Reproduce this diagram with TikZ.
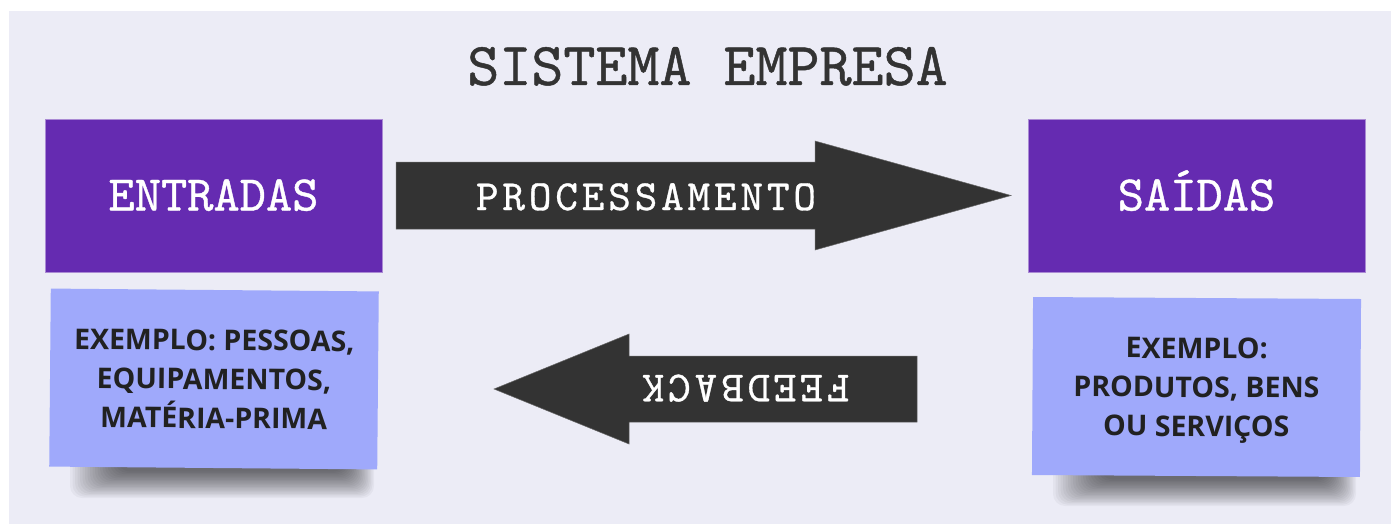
\documentclass[tikz,border=0pt]{standalone}
\usepackage{fontspec}

\newfontfamily\slabfont{lmmono10-regular}[Extension=.otf,FakeBold=0.8]
\newfontfamily\arrowfont{lmmono10-regular}[Extension=.otf,FakeBold=0.8,LetterSpace=9]
\newfontfamily\notefont{Open Sans}

\definecolor{bgcol}{HTML}{ECECF6}
\definecolor{boxpurple}{HTML}{652BB1}
\definecolor{arrowgray}{HTML}{333333}
\definecolor{notecol}{HTML}{9FA9FB}

\tikzset{
  purplebox/.style={fill=boxpurple, draw=boxpurple!55!white, line width=0.8pt,
    minimum width=337pt, minimum height=153pt, inner sep=0pt, text=white,
    font=\slabfont\fontsize{50}{50}\selectfont, text height=30pt, text depth=0pt},
  stickynote/.style={fill=notecol, minimum width=328pt, minimum height=178pt,
    inner sep=0pt, align=center, text=black!87, text depth=0pt,
    font=\notefont\bfseries\fontsize{28.5}{39}\selectfont},
  noteshadow/.style={fill=black, opacity=0.035, rounded corners=12pt},
  arrowtext/.style={text=white, inner sep=0pt, anchor=base,
    font=\arrowfont\fontsize{43}{43}\selectfont},
  bigarrow/.style={fill=arrowgray, draw=arrowgray!75!white, line width=0.5pt}
}

\begin{document}
\begin{tikzpicture}[x=1pt,y=-1pt]
\useasboundingbox (0,0) rectangle (1391,524);
% Background
\fill[bgcol] (9,11) rectangle (1391,524);
% Title
\node[anchor=base, text=arrowgray, inner sep=0pt,
  font=\slabfont\fontsize{61}{61}\selectfont] (title) at (707.5,85) {SISTEMA EMPRESA};
% Inputs and outputs
\node[purplebox] (entradas) at (213.5,195.5) {ENTRADAS};
\node[purplebox] (saidas) at (1196.5,195.5) {SAÍDAS};
% Shadows under the notes
\foreach \k in {0,...,19} {
  \fill[noteshadow] (70+2.5*\k,430) rectangle (374-1.5*\k,498-1.4*\k);
  \fill[noteshadow] (1053+2.5*\k,438) rectangle (1356-1.5*\k,506-1.4*\k);
}
% Notes
\node[stickynote, rotate=-0.5] (exentradas) at (214,379)
  {EXEMPLO: PESSOAS,\\EQUIPAMENTOS,\\MATÉRIA-PRIMA};
\node[stickynote, rotate=-0.35] (exsaidas) at (1196.5,387)
  {EXEMPLO:\\PRODUTOS, BENS\\OU SERVIÇOS};
% Processing arrow
\draw[bigarrow] (396,162) -- (815,162) -- (815,141) -- (1011,195.5)
  -- (815,250) -- (815,229) -- (396,229) -- cycle;
\node[arrowtext] (proc) at (646,210) {PROCESSAMENTO};
% Feedback arrow
\draw[bigarrow] (917,356) -- (629,356) -- (629,334) -- (494,389)
  -- (629,444) -- (629,422) -- (917,422) -- cycle;
\node[arrowtext, rotate=180] (feed) at (745.5,375) {FEEDBACK};
\end{tikzpicture}
\end{document}
